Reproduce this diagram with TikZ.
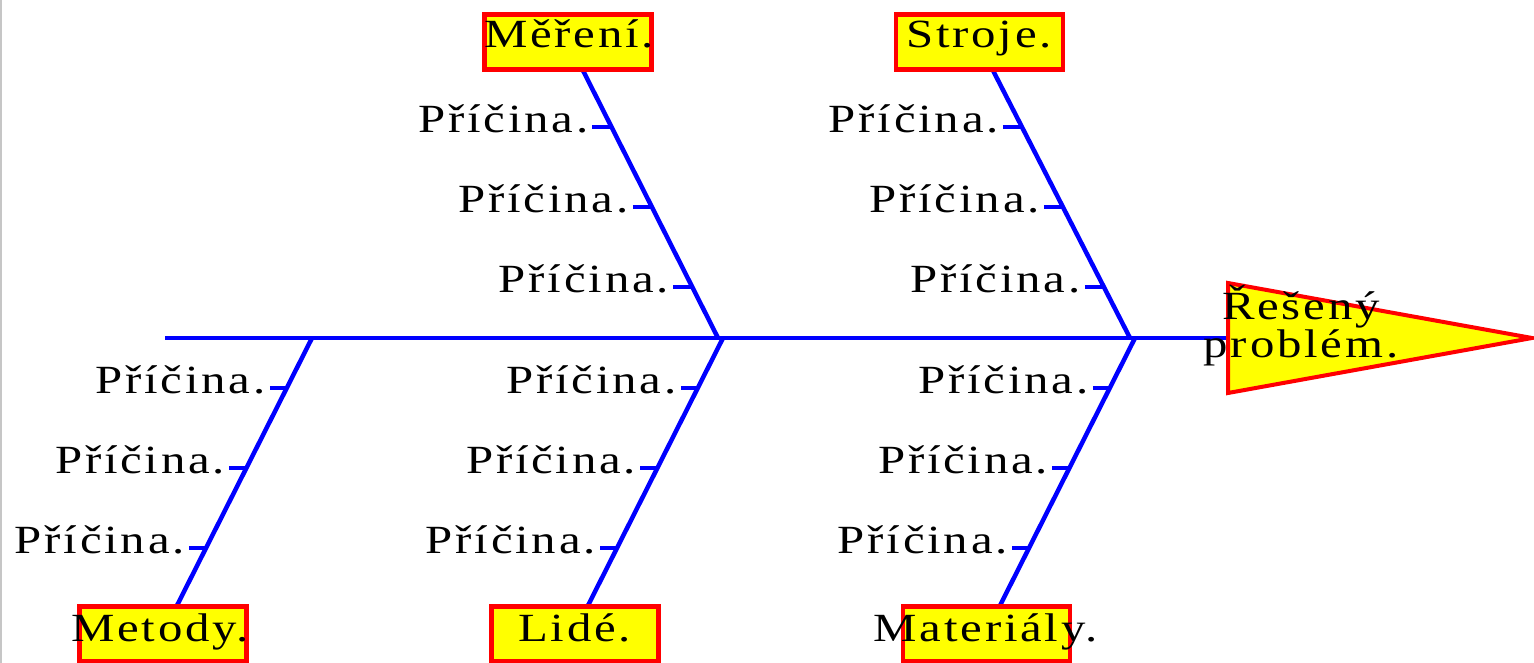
\documentclass[tikz,border=0pt]{standalone}
\usepackage{fontspec}
\setmainfont{Liberation Serif}
\newfontfamily\labfont[LetterSpace=7,FakeStretch=1.22]{Liberation Serif}
\usetikzlibrary{calc}
\definecolor{bblue}{RGB}{0,0,255}
\definecolor{bred}{RGB}{255,0,0}
\definecolor{byellow}{RGB}{255,255,0}
\begin{document}
\begin{tikzpicture}[x=1pt,y=-1pt,
  spine/.style={draw=bblue,line width=4pt},
  bone/.style={draw=bblue,line width=4.5pt},
  tickline/.style={draw=bblue,line width=3.2pt},
  catbox/.style={draw=bred,fill=byellow,line width=4.5pt,minimum width=167pt,minimum height=55pt,inner sep=0pt},
  cattext/.style={font=\labfont\fontsize{40}{40}\selectfont,inner sep=0pt,anchor=base},
  cause/.style={font=\labfont\fontsize{40}{40}\selectfont,inner sep=0pt,anchor=base east},
  headbox/.style={draw=bred,fill=byellow,line width=4pt,line join=miter}
]
\useasboundingbox (0,0) rectangle (1534,663);
\clip (0,0) rectangle (1534,663);
\draw[gray!45,line width=1.5pt] (0.75,0) -- (0.75,663);

% category boxes (positions)
\path (568,42) coordinate (cmer);
\path (979.5,42) coordinate (cstr);
\path (163,634) coordinate (cmet);
\path (575,634) coordinate (clid);
\path (986.5,634) coordinate (cmat);

% spine
\coordinate (tail) at (165,338);
\coordinate (head) at (1228,338);
\coordinate (j1) at (718,338);
\coordinate (j2) at (1130,338);
\coordinate (j3) at (312,338);
\coordinate (j4) at (723,338);
\coordinate (j5) at (1135,338);
\draw[spine] (tail) -- (head);

% branch end points at boxes
\coordinate (emer) at ($(cmer)+(15,28.5)$);
\coordinate (estr) at ($(cstr)+(13.5,28.5)$);
\coordinate (emet) at ($(cmet)+(14,-28.5)$);
\coordinate (elid) at ($(clid)+(13,-28.5)$);
\coordinate (emat) at ($(cmat)+(13.5,-28.5)$);

% bones
\draw[bone] (emer) -- (j1);
\draw[bone] (estr) -- (j2);
\draw[bone] (j3) -- (emet);
\draw[bone] (j4) -- (elid);
\draw[bone] (j5) -- (emat);

% causes on top bones
\foreach \a/\b/\n in {emer/j1/mer, estr/j2/str}{
  \foreach \t [count=\i] in {0.211,0.510,0.809}{
    \coordinate (p-\n-\i) at ($(\a)!\t!(\b)$);
    \draw[tickline] ($(p-\n-\i)+(-19,0)$) -- (p-\n-\i);
    \node[cause] (c-\n-\i) at ($(p-\n-\i)+(-23,5.5)$) {Příčina.};
  }
}
% causes on bottom bones
\foreach \a/\b/\n in {j3/emet/met, j4/elid/lid, j5/emat/mat}{
  \foreach \t [count=\i] in {0.187,0.486,0.785}{
    \coordinate (p-\n-\i) at ($(\a)!\t!(\b)$);
    \draw[tickline] ($(p-\n-\i)+(-17,0)$) -- (p-\n-\i);
    \node[cause] (c-\n-\i) at ($(p-\n-\i)+(-21,5.5)$) {Příčina.};
  }
}

% boxes
\node[catbox] (mer) at (cmer) {};
\node[catbox] (str) at (cstr) {};
\node[catbox] (met) at (cmet) {};
\node[catbox] (lid) at (clid) {};
\node[catbox] (mat) at (cmat) {};
\node[cattext] (tmer) at (569,48) {Měření.};
\node[cattext] (tstr) at (979,48) {Stroje.};
\node[cattext] (tmet) at (160,641) {Metody.};
\node[cattext] (tlid) at (574.5,641) {Lidé.};
\node[cattext] (tmat) at (985.5,641) {Materiály.};

% head
\path[headbox] (1228,283) -- (1532,338) -- (1228,393) -- cycle;
\node[font=\labfont\fontsize{40}{27}\selectfont,align=center,inner sep=0pt,anchor=base] (problem) at (1301,357) {Řešený\\problém.};
\end{tikzpicture}
\end{document}
